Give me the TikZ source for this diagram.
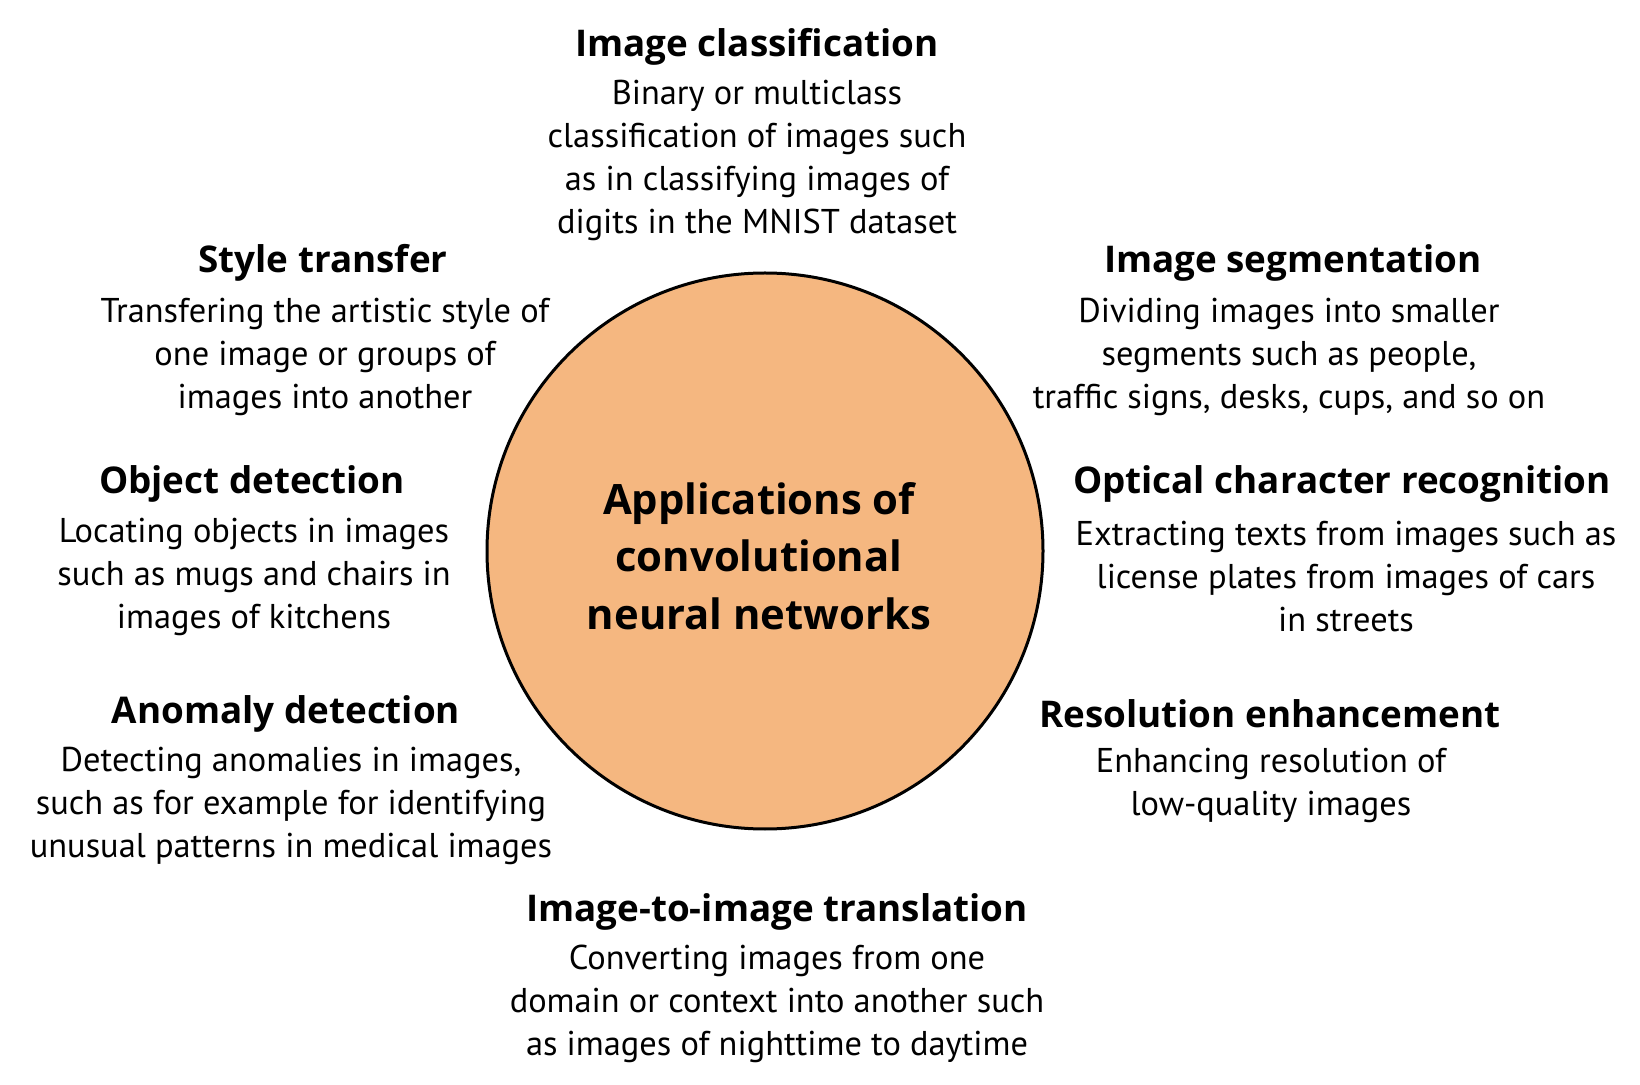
\documentclass[tikz,border=0pt]{standalone}
\usepackage{fontspec}
\setmainfont{PT Sans}
\newfontfamily\ttlfont{Open Sans}[UprightFont=* Bold]
\definecolor{peach}{RGB}{245,183,128}
\begin{document}
\begin{tikzpicture}[x=0.5pt,y=-0.5pt,
  ttl/.style={inner sep=0pt,align=center,font=\fontsize{18.4}{21.5}\ttlfont},
  body/.style={inner sep=0pt,align=center,font=\fontsize{17.2}{21.5}\selectfont},
  hubtxt/.style={inner sep=0pt,align=center,font=\fontsize{20.9}{28.7}\ttlfont}]
\useasboundingbox (0,0) rectangle (1640,1085);
\node[circle,draw=black,line width=1.5pt,fill=peach,minimum size=278pt,inner sep=0pt] (hub) at (765,551) {};
\node[hubtxt] (hubtext) at (759,556) {Applications of\\convolutional\\neural networks};

\node[ttl] (t1) at (757,47) {Image classification};
\node[body] (b1) at (757,160) {Binary or multiclass\\classification of images such\\as in classifying images of\\digits in the MNIST dataset};

\node[ttl] (t2) at (323,263) {Style transfer};
\node[body] (b2) at (325,357) {Transfering the artistic style of\\one image or groups of\\images into another};

\node[ttl] (t3) at (1293,263) {Image segmentation};
\node[body] (b3) at (1289,357) {Dividing images into smaller\\segments such as people,\\traffic signs, desks, cups, and so on};

\node[ttl] (t4) at (252,484) {Object detection};
\node[body] (b4) at (254,577) {Locating objects in images\\such as mugs and chairs in\\images of kitchens};

\node[ttl] (t5) at (1342,484) {Optical character recognition};
\node[body] (b5) at (1346,577) {Extracting texts from images such as\\license plates from images of cars\\in streets};

\node[ttl] (t6) at (286,714) {Anomaly detection};
\node[body] (b6) at (291,806) {Detecting anomalies in images,\\such as for example for identifying\\unusual patterns in medical images};

\node[ttl] (t7) at (1270,714) {Resolution enhancement};
\node[body] (b7) at (1271,785) {Enhancing resolution of\\low-quality images};

\node[ttl] (t8) at (777,912) {Image-to-image translation};
\node[body] (b8) at (777,1004) {Converting images from one\\domain or context into another such\\as images of nighttime to daytime};
\end{tikzpicture}
\end{document}
